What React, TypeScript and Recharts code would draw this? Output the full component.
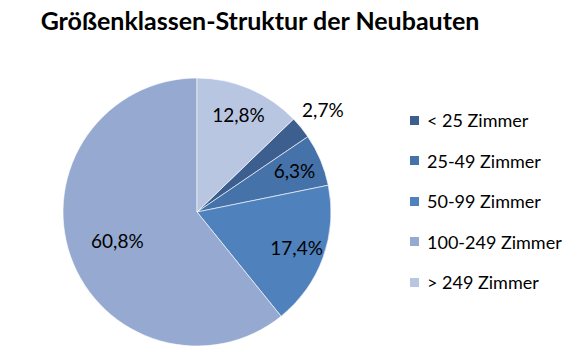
import { PieChart, Pie, Cell, Legend } from 'recharts'

const categories = ['< 25 Zimmer', '25-49 Zimmer', '50-99 Zimmer', '100-249 Zimmer', '> 249 Zimmer']
const shares = [2.7, 6.3, 17.4, 60.8, 12.8]
const colors = ['#3c5f8f', '#4672aa', '#4f81bd', '#95a9d1', '#b9c6e1']

const data = categories.map((name, i) => ({ name, value: shares[i] }))

const RAD = Math.PI / 180

// Excel style: small slices get their label outside
const renderLabel = (props: any) => {
  const { cx, cy, midAngle, outerRadius, percent, value } = props
  const f = percent > 0.5 ? 0.63 : percent < 0.05 ? 1.21 : 0.79
  const r = outerRadius * f
  const x = cx + r * Math.cos(-midAngle * RAD)
  const y = cy + r * Math.sin(-midAngle * RAD)
  return (
    <text x={x} y={y} textAnchor="middle" dominantBaseline="central" fill="#000" fontSize={19} fontFamily="Lato">
      {String(value).replace('.', ',') + '%'}
    </text>
  )
}

const renderLegend = () => (
  <div style={{ fontFamily: 'Lato', fontSize: 18, color: '#000' }}>
    {categories.map((c, i) => (
      <div key={c} style={{ display: 'flex', alignItems: 'center', height: 40.5 }}>
        <span style={{ width: 9, height: 9, background: colors[i], marginRight: 8 }} />
        {c}
      </div>
    ))}
  </div>
)

// first slice starts after the last one (12,8%) measured from 12 o'clock
const start = 90 - shares[4] * 3.6

export default function App() {
  return (
    <div style={{ position: 'absolute', left: 0, top: 0, width: 588, height: 359, background: '#fff' }}>
      <div
        style={{
          position: 'absolute',
          left: 0,
          width: 520,
          top: 5,
          textAlign: 'center',
          fontFamily: 'Lato',
          fontWeight: 'bold',
          fontSize: 25,
          color: '#000',
        }}
      >
        Größenklassen-Struktur der Neubauten
      </div>
      <PieChart width={588} height={359} margin={{ top: 0, right: 0, bottom: 0, left: 0 }}>
        <Pie
          data={data}
          dataKey="value"
          nameKey="name"
          cx={197}
          cy={212}
          outerRadius={134}
          startAngle={start}
          endAngle={start - 360}
          stroke="#ffffff"
          strokeWidth={0.6}
          label={renderLabel}
          labelLine={false}
          isAnimationActive={false}
        >
          {data.map((d, i) => (
            <Cell key={d.name} fill={colors[i]} />
          ))}
        </Pie>
        <Legend
          layout="vertical"
          content={renderLegend}
          wrapperStyle={{ position: 'absolute', left: 410, top: 100, width: 175 }}
        />
      </PieChart>
    </div>
  )
}
